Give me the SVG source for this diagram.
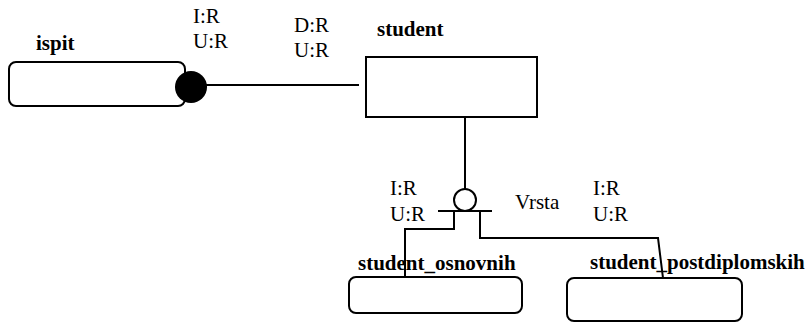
<svg xmlns="http://www.w3.org/2000/svg" width="807" height="322" viewBox="0 0 807 322">
  <style>
    .box { fill: #fff; stroke: #000; stroke-width: 2; }
    .ln { fill: none; stroke: #000; stroke-width: 2; }
    text { font-family: 'Liberation Serif', 'Times New Roman', serif; font-size: 21px; fill: #000; }
    .name { font-weight: bold; }
  </style>
  <rect width="807" height="322" fill="#fff"/>

  <g id="connectors">
    <line class="ln" x1="191" y1="85" x2="359" y2="85"/>
    <line class="ln" x1="465" y1="117" x2="465" y2="189"/>
    <line class="ln" x1="438" y1="211" x2="492" y2="211"/>
    <polyline class="ln" points="454,211 454,229 405,229 405,276"/>
    <polyline class="ln" points="480,211 480,238 658,238 663,278"/>
    <text x="193" y="23">I:R</text>
    <text x="193" y="48">U:R</text>
    <text x="294" y="32">D:R</text>
    <text x="294" y="57">U:R</text>
    <text x="390" y="195">I:R</text>
    <text x="390" y="221">U:R</text>
    <text x="515" y="209">Vrsta</text>
    <text x="593" y="195">I:R</text>
    <text x="593" y="221">U:R</text>
  </g>

  <g id="ispit">
    <rect class="box" x="9" y="62" width="176" height="44" rx="7"/>
    <text class="name" x="36" y="50">ispit</text>
    <circle cx="191" cy="87" r="16" fill="#000"/>
  </g>

  <g id="student">
    <rect class="box" x="366" y="57" width="171" height="60"/>
    <text class="name" x="377" y="36">student</text>
  </g>

  <g id="vrsta">
    <circle cx="465" cy="200" r="11" fill="#fff" stroke="#000" stroke-width="2"/>
  </g>

  <g id="student_osnovnih">
    <text class="name" x="358" y="270">student_osnovnih</text>
    <rect class="box" x="349" y="277" width="173" height="36" rx="7"/>
  </g>

  <g id="student_postdiplomskih">
    <text class="name" x="590" y="269">student_postdiplomskih</text>
    <rect class="box" x="567" y="278" width="175" height="43" rx="7"/>
  </g>
</svg>
